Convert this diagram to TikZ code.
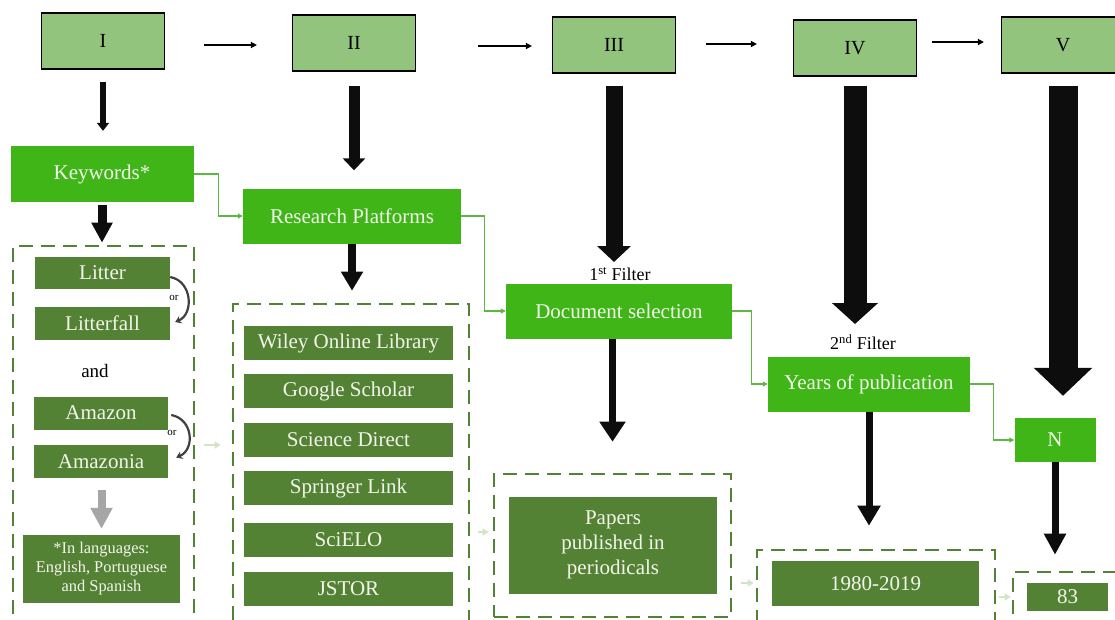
\documentclass[tikz,border=0pt]{standalone}
\usepackage{fontspec}
\setmainfont{Liberation Serif}
\usetikzlibrary{arrows.meta,calc}
\definecolor{topfill}{HTML}{93C47D}
\definecolor{bright}{HTML}{40B518}
\definecolor{dark}{HTML}{548235}
\definecolor{conn}{HTML}{5CB840}
\definecolor{paleg}{HTML}{D2E6C6}
\definecolor{greyarr}{HTML}{A6A6A6}
\definecolor{boxtext}{HTML}{F2F5EA}
\definecolor{orcol}{HTML}{404040}
\begin{document}
\begin{tikzpicture}[x=1pt,y=-1pt,
  topbox/.style={draw=black, line width=1.1pt, fill=topfill, minimum width=123pt, minimum height=56pt, inner sep=0pt, font=\fontsize{20}{24}\selectfont},
  gbox/.style={fill=bright, text=boxtext, inner sep=0pt, font=\fontsize{21}{25}\selectfont},
  dbox/.style={fill=dark, text=boxtext, inner sep=0pt, font=\fontsize{21}{25}\selectfont},
  dashbox/.style={draw=dark, line width=2.6pt, dash pattern=on 14pt off 8pt, inner sep=0pt},
  tarrow/.style={draw=black, line width=1.3pt, -{Triangle[width=6pt,length=6pt]}},
  barrow/.style n args={3}{draw=black!95, line width=#1, -{Triangle[width=#2,length=#3]}},
  gconn/.style={draw=conn, line width=1.1pt, -{Triangle[width=5pt,length=5pt]}},
  palearrow/.style={draw=paleg, line width=2.5pt, -{Triangle[width=7pt,length=6pt]}},
  orarrow/.style={draw=orcol, line width=2.2pt, -{Stealth[width=8pt,length=6pt]}},
  lbl/.style={inner sep=0pt, font=\fontsize{18}{22}\selectfont},
  orlabel/.style={inner sep=0pt, font=\fontsize{11}{13}\selectfont}
]
\useasboundingbox (0,0) rectangle (1115,619);
\fill[white] (0,0) rectangle (1115,619);

% top row
\node[topbox] (I) at (103,41) {I};
\node[topbox] (II) at (354,43) {II};
\node[topbox] (III) at (614,45) {III};
\node[topbox] (IV) at (855,48) {IV};
\node[topbox] (V) at (1063,45) {V};

\draw[tarrow, shorten <=39pt, shorten >=35pt] ([yshift=-4pt]I.east) -- ([yshift=-4pt]I.east -| II.west);
\draw[tarrow, shorten <=62pt, shorten >=20pt] ([yshift=-3pt]II.east) -- ([yshift=-3pt]II.east -| III.west);
\draw[tarrow, shorten <=30pt, shorten >=36pt] ([yshift=1pt]III.east) -- ([yshift=1pt]III.east -| IV.west);
\draw[tarrow, shorten <=15pt, shorten >=17pt] ([yshift=6pt]IV.east) -- ([yshift=6pt]IV.east -| V.west);

% bright green process boxes
\node[gbox, minimum width=183pt, minimum height=56pt] (KW) at (102,174) {Keywords*};
\node[gbox, minimum width=218pt, minimum height=55pt] (RP) at (352,216) {Research Platforms};
\node[gbox, minimum width=226pt, minimum height=55pt] (DS) at (619,311) {Document selection};
\node[gbox, minimum width=202pt, minimum height=55pt] (YP) at (869,384) {Years of publication};
\node[gbox, minimum width=81pt, minimum height=44pt] (N) at (1055,440) {N};

\node[lbl] (F1) at (620,274) {1\textsuperscript{st} Filter};
\node[lbl] (F2) at (863,342) {2\textsuperscript{nd} Filter};

% green connectors
\draw[gconn] (KW.east) -- ++(25,0) |- (RP.west);
\draw[gconn] (RP.east) -- ++(23,0) |- (DS.west);
\draw[gconn] (DS.east) -- ++(19,0) |- (YP.west);
\draw[gconn] (YP.east) -- ++(23,0) |- (N.west);

% dashed groups
\node[dashbox, minimum width=181pt, minimum height=384pt] (D1) at (103.5,438) {};
\node[dashbox, minimum width=236pt, minimum height=326pt] (D2) at (351,467) {};
\node[dashbox, minimum width=237pt, minimum height=143pt] (D3) at (612.5,545.5) {};
\node[dashbox, minimum width=238pt, minimum height=80pt] (D4) at (876,590) {};
\node[dashbox, minimum width=122pt, minimum height=58pt] (D5) at (1074,601) {};

% keywords group
\node[dbox, minimum width=135pt, minimum height=32pt] (LT) at (102.5,273) {Litter};
\node[dbox, minimum width=135pt, minimum height=33pt] (LF) at (102.5,323.5) {Litterfall};
\node[lbl, font=\fontsize{19}{22}\selectfont] (AND) at (95,371) {and};
\node[dbox, minimum width=134pt, minimum height=33pt] (AM) at (101,413) {Amazon};
\node[dbox, minimum width=134pt, minimum height=33pt] (AMA) at (101,461.5) {Amazonia};
\node[dbox, minimum width=157pt, minimum height=68pt, align=center, font=\fontsize{16.4}{19}\selectfont] (LG) at (101.5,569) {*In languages:\\English, Portuguese\\and Spanish};

\node[orlabel] (or1) at (174,298) {or};
\node[orlabel] (or2) at (172,433) {or};
\draw[orarrow] ([yshift=-4pt]LT.east) .. controls +(22,4) and +(19,-8) .. ([xshift=5pt,yshift=1.5pt]LF.east);
\draw[orarrow] ([xshift=3pt,yshift=-2pt]AM.east) .. controls +(22,4) and +(19,-8) .. ([xshift=8pt,yshift=4pt]AMA.east);

\draw[barrow={8pt}{21pt}{21pt}, draw=greyarr, shorten <=12pt, shorten >=6pt] (AMA.south -| LG.north) -- (LG.north);

% platforms group
\node[dbox, minimum width=209pt, minimum height=34pt] (P1) at (348.5,343) {Wiley Online Library};
\node[dbox, minimum width=209pt, minimum height=34pt] (P2) at (348.5,391) {Google Scholar};
\node[dbox, minimum width=209pt, minimum height=34pt] (P3) at (348.5,439.5) {Science Direct};
\node[dbox, minimum width=209pt, minimum height=34pt] (P4) at (348.5,488) {Springer Link};
\node[dbox, minimum width=209pt, minimum height=34pt] (P5) at (348.5,540) {SciELO};
\node[dbox, minimum width=209pt, minimum height=34pt] (P6) at (348.5,589) {JSTOR};

% results
\node[dbox, minimum width=208pt, minimum height=97pt, align=center, font=\fontsize{21}{25}\selectfont] (PP) at (613,545) {Papers\\published in\\periodicals};
\node[dbox, minimum width=207pt, minimum height=45pt] (YR) at (875.5,583.5) {1980-2019};
\node[dbox, minimum width=81pt, minimum height=28pt] (NN) at (1067.5,597) {83};

% big black arrows
\draw[barrow={6pt}{12pt}{8pt}, shorten <=12pt, shorten >=15pt] (I.south) -- (I.south |- KW.north);
\draw[barrow={11pt}{22pt}{12pt}, shorten <=14pt, shorten >=18pt] (II.south) -- (II.south |- RP.north);
\draw[barrow={17pt}{33pt}{16pt}, shorten <=12pt, shorten >=12pt] (III.south) -- (III.south |- F1.center);
\draw[barrow={23pt}{45pt}{21pt}, shorten <=9pt, shorten >=18pt] (IV.south) -- (IV.south |- F2.center);
\draw[barrow={29pt}{57pt}{28pt}, shorten <=12pt, shorten >=22pt] (V.south) -- (V.south |- N.north);

\draw[barrow={9pt}{20pt}{20pt}, shorten <=3pt, shorten >=2pt] (KW.south) -- (KW.south |- D1.north);
\draw[barrow={8pt}{21pt}{19pt}, shorten >=12pt] (RP.south) -- (RP.south |- D2.north);
\draw[barrow={7pt}{25pt}{20pt}, shorten >=31pt] (DS.south -| D3.north) -- (D3.north);
\draw[barrow={7pt}{22pt}{20pt}, shorten >=23pt] (YP.south) -- (YP.south |- D4.north);
\draw[barrow={7pt}{21pt}{21pt}, shorten >=16pt] (N.south) -- (N.south |- D5.north);

% pale arrows between groups
\coordinate (q1) at (0,445);
\coordinate (q2) at (0,532);
\coordinate (q3) at (0,583);
\coordinate (q4) at (0,597);
\draw[palearrow, shorten <=9pt, shorten >=11pt] (D1.east |- q1) -- (D2.west |- q1);
\draw[palearrow, shorten <=8pt, shorten >=4pt] (D2.east |- q2) -- (D3.west |- q2);
\draw[palearrow, shorten <=9pt, shorten >=2pt] (D3.east |- q3) -- (D4.west |- q3);
\draw[palearrow, shorten <=3pt, shorten >=1pt] (D4.east |- q4) -- (D5.west |- q4);
\end{tikzpicture}
\end{document}
